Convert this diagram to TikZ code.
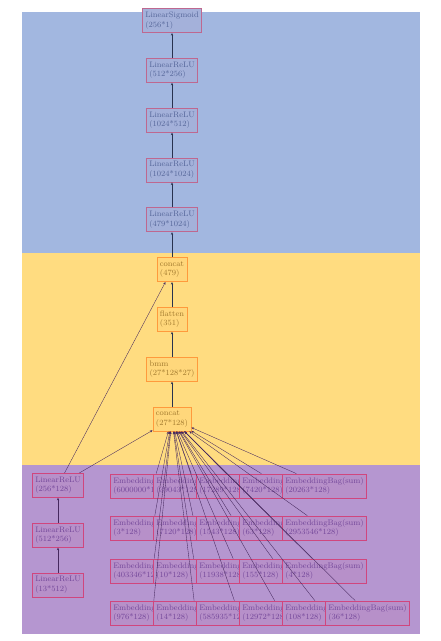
\documentclass[tikz,border=0pt]{standalone}
\usetikzlibrary{arrows.meta, positioning}
\definecolor{cblue}{HTML}{A2B7E0}
\definecolor{cyellow}{HTML}{FFDC80}
\definecolor{cpurple}{HTML}{B596D0}
\definecolor{cpink}{HTML}{BE6890}
\definecolor{corange}{HTML}{FF9A3C}
\definecolor{cmagenta}{HTML}{D0467E}
\definecolor{tblue}{HTML}{56679A}
\definecolor{tyellow}{HTML}{A27A2E}
\definecolor{tpurple}{HTML}{74489A}
\definecolor{cnavy}{HTML}{28324F}
\definecolor{cplum}{HTML}{46285E}
\tikzset{
  every picture/.style={font=\footnotesize},
  box/.style={draw=#1, line width=0.8pt, align=left, inner sep=3pt, minimum height=24pt},
  toplay/.style={box=cpink, fill=cblue!92!cpink, text=tblue},
  midlay/.style={box=corange, fill=cyellow!92!corange, text=tyellow},
  botlay/.style={box=cmagenta, fill=cpurple!92!cmagenta, text=tpurple},
  arrow/.style={-{Stealth[length=2.6pt, width=2.2pt]}, draw=cnavy, line width=0.55pt},
  feed/.style={arrow, draw=cplum, line width=0.35pt},
}
\begin{document}
\begin{tikzpicture}[x=1pt, y=-1pt, node distance=25pt]
  \useasboundingbox (0,0) rectangle (441,641);
  % bands: top mlp, interaction, bottom mlp and embeddings
  \fill[cblue] (22,12) rectangle (420,253);
  \fill[cyellow] (22,253) rectangle (420,465);
  \fill[cpurple] (22,465) rectangle (420,634);
  % interaction
  \node[midlay] (cat1) at (172,419) {concat\\(27*128)};
  \node[midlay, above=of cat1] (bmm) {bmm\\(27*128*27)};
  \node[midlay, above=of bmm] (flat) {flatten\\(351)};
  \node[midlay, above=of flat] (cat2) {concat\\(479)};
  % top mlp
  \node[toplay, above=of cat2] (t1) {LinearReLU\\(479*1024)};
  \node[toplay, above=of t1] (t2) {LinearReLU\\(1024*1024)};
  \node[toplay, above=of t2] (t3) {LinearReLU\\(1024*512)};
  \node[toplay, above=of t3] (t4) {LinearReLU\\(512*256)};
  \node[toplay, above=of t4] (out) {LinearSigmoid\\(256*1)};
  \draw[arrow] (cat1) -- (bmm); \draw[arrow] (bmm) -- (flat); \draw[arrow] (flat) -- (cat2);
  \draw[arrow] (cat2) -- (t1); \draw[arrow] (t1) -- (t2); \draw[arrow] (t2) -- (t3);
  \draw[arrow] (t3) -- (t4); \draw[arrow] (t4) -- (out);
  % bottom mlp
  \node[botlay] (b1) at (58,585) {LinearReLU\\(13*512)};
  \node[botlay, above=of b1] (b2) {LinearReLU\\(512*256)};
  \node[botlay, above=of b2] (b3) {LinearReLU\\(256*128)};
  \draw[arrow, draw=cplum] (b1) -- (b2); \draw[arrow, draw=cplum] (b2) -- (b3);
  % embedding tables, each one drawn over the one before
  \node[botlay, anchor=west] (e1) at (110,486) {EmbeddingBag(sum)\\(6000000*128)};
  \node[botlay, anchor=west] (e2) at (153,486) {EmbeddingBag(sum)\\(39043*128)};
  \node[botlay, anchor=west] (e3) at (196,486) {EmbeddingBag(sum)\\(17289*128)};
  \node[botlay, anchor=west] (e4) at (239,486) {EmbeddingBag(sum)\\(7420*128)};
  \node[botlay, anchor=west] (e5) at (282,486) {EmbeddingBag(sum)\\(20263*128)};
  \node[botlay, anchor=west] (e6) at (110,528) {EmbeddingBag(sum)\\(3*128)};
  \node[botlay, anchor=west] (e7) at (153,528) {EmbeddingBag(sum)\\(7120*128)};
  \node[botlay, anchor=west] (e8) at (196,528) {EmbeddingBag(sum)\\(1543*128)};
  \node[botlay, anchor=west] (e9) at (239,528) {EmbeddingBag(sum)\\(63*128)};
  \node[botlay, anchor=west] (e10) at (282,528) {EmbeddingBag(sum)\\(2953546*128)};
  \node[botlay, anchor=west] (e11) at (110,571) {EmbeddingBag(sum)\\(403346*128)};
  \node[botlay, anchor=west] (e12) at (153,571) {EmbeddingBag(sum)\\(10*128)};
  \node[botlay, anchor=west] (e13) at (196,571) {EmbeddingBag(sum)\\(11938*128)};
  \node[botlay, anchor=west] (e14) at (239,571) {EmbeddingBag(sum)\\(155*128)};
  \node[botlay, anchor=west] (e15) at (282,571) {EmbeddingBag(sum)\\(4*128)};
  \node[botlay, anchor=west] (e16) at (110,613) {EmbeddingBag(sum)\\(976*128)};
  \node[botlay, anchor=west] (e17) at (153,613) {EmbeddingBag(sum)\\(14*128)};
  \node[botlay, anchor=west] (e18) at (196,613) {EmbeddingBag(sum)\\(585935*128)};
  \node[botlay, anchor=west] (e19) at (239,613) {EmbeddingBag(sum)\\(12972*128)};
  \node[botlay, anchor=west] (e20) at (282,613) {EmbeddingBag(sum)\\(108*128)};
  \node[botlay, anchor=west] (e21) at (325,613) {EmbeddingBag(sum)\\(36*128)};
  % into the interaction
  \draw[feed] (b3) -- (cat1); \draw[feed] (b3) -- (cat2);
  \draw[feed] (e1) -- (cat1); \draw[feed] (e2) -- (cat1); \draw[feed] (e3) -- (cat1);
  \draw[feed] (e4) -- (cat1); \draw[feed] (e5) -- (cat1); \draw[feed] (e6) -- (cat1);
  \draw[feed] (e7) -- (cat1); \draw[feed] (e8) -- (cat1); \draw[feed] (e9) -- (cat1);
  \draw[feed] (e10) -- (cat1); \draw[feed] (e11) -- (cat1); \draw[feed] (e12) -- (cat1);
  \draw[feed] (e13) -- (cat1); \draw[feed] (e14) -- (cat1); \draw[feed] (e15) -- (cat1);
  \draw[feed] (e16) -- (cat1); \draw[feed] (e17) -- (cat1); \draw[feed] (e18) -- (cat1);
  \draw[feed] (e19) -- (cat1); \draw[feed] (e20) -- (cat1); \draw[feed] (e21) -- (cat1);
\end{tikzpicture}
\end{document}
